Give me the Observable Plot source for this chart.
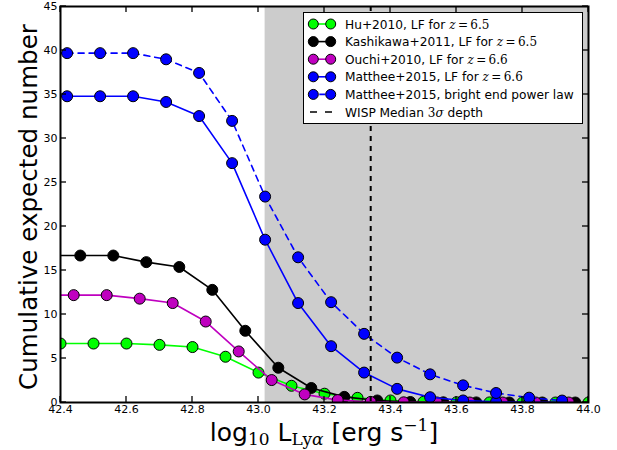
<!DOCTYPE html>
<html><head><meta charset="utf-8">
<script src="https://cdn.jsdelivr.net/npm/d3@7"></script>
<script src="https://cdn.jsdelivr.net/npm/@observablehq/plot@0.6"></script>
<style>body{margin:0;background:#fff;} svg{display:block}</style>
</head><body><div id="chart"></div>
<script>
// ---- data ----
const xTicks = [42.4, 42.6, 42.8, 43.0, 43.2, 43.4, 43.6, 43.8, 44.0];
const yTicks = [0, 5, 10, 15, 20, 25, 30, 35, 40, 45];
const xDomain = [42.4, 44.0];
const yDomain = [0, 45];

const shadeStart = 43.02;   // grey region (below WISP sensitivity)
const wispDepth = 43.34;    // WISP median 3-sigma depth

const huX = [42.40, 42.50, 42.60, 42.70, 42.80, 42.90, 43.00, 43.10, 43.20, 43.30, 43.40, 43.50, 43.60, 43.70, 43.80, 43.90, 44.00];
const huY = [6.7, 6.7, 6.7, 6.55, 6.3, 5.2, 3.4, 1.9, 1.0, 0.53, 0.23, 0.08, 0.03, 0.01, 0.0, 0.0, 0.0];

const kashX = [42.36, 42.46, 42.56, 42.66, 42.76, 42.86, 42.96, 43.06, 43.16, 43.26, 43.36, 43.46, 43.56, 43.66, 43.76, 43.86, 43.96];
const kashY = [16.7, 16.7, 16.7, 15.95, 15.4, 12.8, 8.15, 3.95, 1.65, 0.64, 0.23, 0.06, 0.02, 0.01, 0.0, 0.0, 0.0];

const ouchiX = [42.34, 42.44, 42.54, 42.64, 42.74, 42.84, 42.94, 43.04, 43.14, 43.24, 43.34, 43.44, 43.54, 43.64, 43.74, 43.84, 43.94];
const ouchiY = [12.2, 12.2, 12.2, 11.8, 11.3, 9.2, 5.8, 2.55, 0.92, 0.27, 0.07, 0.02, 0.01, 0.0, 0.0, 0.0, 0.0];

const mattheeX = [42.32, 42.42, 42.52, 42.62, 42.72, 42.82, 42.92, 43.02, 43.12, 43.22, 43.32, 43.42, 43.52, 43.62, 43.72, 43.82, 43.92];
const mattheeY = [34.8, 34.8, 34.8, 34.8, 34.15, 32.55, 27.2, 18.5, 11.3, 6.4, 3.4, 1.55, 0.6, 0.23, 0.08, 0.03, 0.01];
const mattheePLY = [39.7, 39.7, 39.7, 39.7, 39.0, 37.45, 32.0, 23.4, 16.5, 11.4, 7.8, 5.1, 3.2, 1.95, 1.08, 0.55, 0.22];

const seriesNames = [
  "Hu+2010, LF for ", "Kashikawa+2011, LF for ", "Ouchi+2010, LF for ",
  "Matthee+2015, LF for ", "Matthee+2015, bright end power law"
];
const seriesZ = ["6.5", "6.5", "6.6", "6.6", null];
const seriesColors = ["#00ff00", "#000000", "#bf00bf", "#0000ff", "#0000ff"];
const seriesDash = [null, null, null, null, "6,5"];
const wispLabel = "WISP Median ";

// ---- build ----
const seriesXY = [[huX, huY], [kashX, kashY], [ouchiX, ouchiY], [mattheeX, mattheeY], [mattheeX, mattheePLY]];
const seriesData = seriesXY.map(([xs, ys]) => xs.map((x, i) => ({x, y: ys[i]})));

const marks = [
  Plot.rect([{x1: shadeStart, x2: xDomain[1]}], {x1: "x1", x2: "x2", y1: () => yDomain[0], y2: () => yDomain[1], fill: "#cccccc"})
];
seriesData.forEach((d, i) => {
  marks.push(Plot.line(d, {x: "x", y: "y", stroke: seriesColors[i], strokeWidth: 1.6, strokeDasharray: seriesDash[i] || undefined, clip: true}));
  marks.push(Plot.dot(d, {x: "x", y: "y", r: 5.5, fill: seriesColors[i], stroke: "black", strokeWidth: 1, clip: true}));
});
marks.push(Plot.ruleX([wispDepth], {stroke: "black", strokeWidth: 2, strokeDasharray: "5,5"}));
marks.push(Plot.frame({stroke: "black", strokeWidth: 2}));
marks.push(Plot.axisX({ticks: xTicks, tickSize: 0, tickPadding: 3, tickFormat: d => d.toFixed(1), label: null, fontSize: 11}));
marks.push(Plot.axisY({ticks: yTicks, tickSize: 0, tickPadding: 3, label: null, fontSize: 11}));

const plot = Plot.plot({
  width: 617, height: 450,
  marginLeft: 60, marginRight: 29, marginTop: 6, marginBottom: 48,
  x: {domain: xDomain},
  y: {domain: yDomain},
  style: {fontFamily: "'DejaVu Sans'", fontSize: "11px", background: "white", color: "black", overflow: "visible"},
  marks
});
document.getElementById("chart").appendChild(plot);

// ---- inward ticks on all sides ----
const svg = d3.select(plot);
const sx = plot.scale("x"), sy = plot.scale("y");
const L = 6;
const yTop = sy.apply(yDomain[1]), yBot = sy.apply(yDomain[0]);
const xLeft = sx.apply(xDomain[0]), xRight = sx.apply(xDomain[1]);
const tg = svg.append("g").attr("stroke", "black").attr("stroke-width", 1.3);
xTicks.forEach(v => {
  const x = sx.apply(v);
  tg.append("line").attr("x1", x).attr("x2", x).attr("y1", yBot).attr("y2", yBot - L);
  tg.append("line").attr("x1", x).attr("x2", x).attr("y1", yTop).attr("y2", yTop + L);
});
yTicks.forEach(v => {
  const y = sy.apply(v);
  tg.append("line").attr("y1", y).attr("y2", y).attr("x1", xLeft).attr("x2", xLeft + L);
  tg.append("line").attr("y1", y).attr("y2", y).attr("x1", xRight).attr("x2", xRight - L);
});

// ---- axis labels ----
const serif = "'DejaVu Serif', 'Liberation Serif', serif";
svg.append("text")
  .attr("transform", `translate(37,${(yTop + yBot) / 2 + 3}) rotate(-90)`)
  .attr("text-anchor", "middle").attr("font-size", 24.6).attr("font-family", "'DejaVu Sans'")
  .attr("fill", "black").text("Cumulative expected number");

const xl = svg.append("text").attr("x", (xLeft + xRight) / 2).attr("y", 441)
  .attr("text-anchor", "middle").attr("font-size", 25).attr("font-family", "'DejaVu Sans'").attr("fill", "black");
xl.append("tspan").text("log");
xl.append("tspan").attr("font-family", serif).attr("font-size", 17).attr("dy", 4).text("10");
xl.append("tspan").attr("dy", -4).text(" L");
xl.append("tspan").attr("font-family", serif).attr("font-size", 17).attr("dy", 4).text("Ly");
xl.append("tspan").attr("font-family", serif).attr("font-size", 17).attr("font-style", "italic").text("α");
xl.append("tspan").attr("dy", -4).text(" [erg s");
xl.append("tspan").attr("font-family", serif).attr("font-size", 17).attr("dy", -10).text("−1");
xl.append("tspan").attr("dy", 10).text("]");

// ---- legend ----
const lg = svg.append("g").attr("text-anchor", "start");
const lx0 = 303.5, ly0 = 12.5, lw = 279, lh = 111;
lg.append("rect").attr("x", lx0).attr("y", ly0).attr("width", lw).attr("height", lh)
  .attr("fill", "white").attr("stroke", "black").attr("stroke-width", 1);
const rowY = i => 24 + i * 17.6;
const mA = 313.3, mB = 330.7, tx = 345;
seriesNames.forEach((name, i) => {
  const y = rowY(i);
  lg.append("line").attr("x1", mA).attr("x2", mB).attr("y1", y).attr("y2", y)
    .attr("stroke", seriesColors[i]).attr("stroke-width", 1.6)
    .attr("stroke-dasharray", seriesDash[i] ? "0,6,6,6" : null);
  [mA, mB].forEach(cx => lg.append("circle").attr("cx", cx).attr("cy", y).attr("r", 5)
    .attr("fill", seriesColors[i]).attr("stroke", "black").attr("stroke-width", 1));
  const t = lg.append("text").attr("x", tx).attr("y", y + 4.5).attr("font-size", 12.2)
    .attr("text-anchor", "start")
    .attr("font-family", "'DejaVu Sans'").attr("fill", "black");
  t.append("tspan").text(name);
  if (seriesZ[i]) {
    t.append("tspan").attr("font-family", serif).attr("font-size", 12).attr("font-style", "italic").text("z");
    t.append("tspan").attr("font-family", serif).attr("font-size", 12).text("\u2009=\u2009" + seriesZ[i]);
  }
});
{
  const y = rowY(5);
  lg.append("line").attr("x1", 310).attr("x2", 333).attr("y1", y).attr("y2", y)
    .attr("stroke", "black").attr("stroke-width", 1.6).attr("stroke-dasharray", "7,8");
  const t = lg.append("text").attr("x", tx).attr("y", y + 4.5).attr("font-size", 12.2)
    .attr("text-anchor", "start")
    .attr("font-family", "'DejaVu Sans'").attr("fill", "black");
  t.append("tspan").text(wispLabel);
  t.append("tspan").attr("font-family", serif).attr("font-size", 12).text("3");
  t.append("tspan").attr("font-family", serif).attr("font-size", 12).attr("font-style", "italic").text("σ");
  t.append("tspan").text(" depth");
}
</script>
</body></html>
